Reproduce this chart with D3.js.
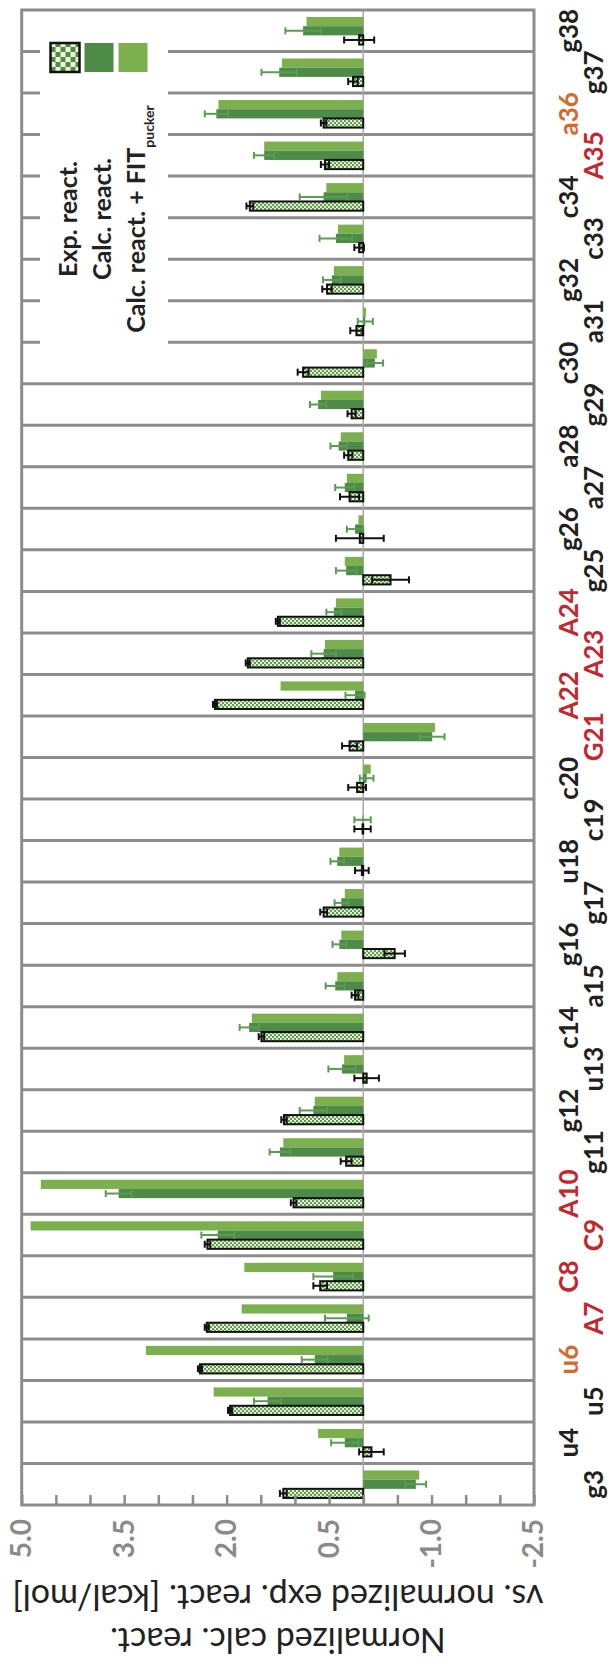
<!DOCTYPE html>
<html>
<head>
<meta charset="utf-8">
<script src="https://cdn.jsdelivr.net/npm/d3@7"></script>
<style>
  body { margin: 0; background: #fff; }
  svg { display: block; }
</style>
</head>
<body>
<script>
const W = 611, H = 1662;

// data
const cats = ["g3","u4","u5","u6","A7","C8","C9","A10","g11","g12","u13","c14","a15","g16","g17","u18","c19","c20","G21","A22","A23","A24","g25","g26","a27","a28","g29","c30","a31","g32","c33","c34","A35","a36","g37","g38"];
const redCats = ["A7","C8","C9","A10","G21","A22","A23","A24","A35"];
const orangeCats = ["u6","a36"];
const expVals = [1.17,-0.12,1.95,2.39,2.29,0.63,2.28,1.02,0.25,1.16,-0.05,1.49,0.12,-0.46,0.58,0.02,0.01,0.09,0.2,2.17,1.69,1.25,-0.4,0.05,0.2,0.22,0.17,0.88,0.1,0.53,0.06,1.66,0.56,0.58,0.15,0.06];
const expErr = [0.05,0.18,0.03,0.03,0.03,0.1,0.04,0.04,0.08,0.04,0.18,0.04,0.05,0.15,0.05,0.1,0.12,0.13,0.11,0.03,0.03,0.03,0.27,0.35,0.14,0.06,0.06,0.08,0.09,0.07,0.07,0.05,0.06,0.04,0.07,0.22];
const calcVals = [-0.77,0.27,1.40,0.71,0.24,0.44,2.13,3.58,1.22,0.73,0.31,1.67,0.41,0.35,0.32,0.38,0.01,-0.05,-1.01,0.12,0.58,0.43,0.25,0.12,0.27,0.36,0.66,-0.17,-0.03,0.46,0.40,0.58,1.45,2.15,1.23,0.88];
const calcErr = [0.15,0.2,0.2,0.19,0.32,0.29,0.24,0.19,0.15,0.2,0.2,0.14,0.14,0.1,0.1,0.1,0.12,0.1,0.18,0.14,0.18,0.11,0.15,0.12,0.14,0.12,0.12,0.12,0.11,0.13,0.24,0.35,0.15,0.17,0.26,0.26];
const fitVals = [-0.82,0.66,2.19,3.18,1.78,1.74,4.87,4.72,1.17,0.71,0.28,1.63,0.38,0.32,0.27,0.35,0,-0.11,-1.05,1.21,0.56,0.4,0.27,0.07,0.24,0.33,0.62,-0.2,-0.04,0.43,0.37,0.54,1.45,2.12,1.19,0.83];
const majorTicks = [5.0, 3.5, 2.0, 0.5, -1.0, -2.5];
const series = ["exp", "calc", "fit"];
const legendLabels = ["Exp. react.", "Calc. react.", "Calc. react. + FIT"];
const titleLines = ["Normalized calc. react.", "vs. normalized exp. react. [kcal/mol]"];

const gray = "#8c8c8c", dark = "#4e8a48", light = "#7cb04f", errGreen = "#5b9c53";

let svg = d3.select("body").append("svg").attr("width", W).attr("height", H);

let defs = svg.append("defs");
let pat = defs.append("pattern").attr("id", "chk").attr("width", 4).attr("height", 4)
  .attr("patternUnits", "userSpaceOnUse");
pat.append("rect").attr("width", 4).attr("height", 4).attr("fill", "#e6efd4");
pat.append("rect").attr("width", 2).attr("height", 2).attr("fill", "#5f9d55");
pat.append("rect").attr("x", 2).attr("y", 2).attr("width", 2).attr("height", 2).attr("fill", "#5f9d55");

// chart is drawn upright, then turned a quarter turn
let g = svg.append("g").attr("transform", `translate(0,${H}) rotate(-90)`);

let x = d3.scaleBand().domain(cats).range([157, 1652]);
let y = d3.scaleLinear().domain([-2.5, 5]).range([534, 21.7]);
let sub = d3.scaleBand().domain(series).range([0, x.bandwidth()]).paddingOuter(0.76);

// category separators
g.selectAll("line.sep")
  .data(cats.slice(1))
  .enter()
  .append("line")
  .attr("x1", d => x(d)).attr("x2", d => x(d))
  .attr("y1", y(5)).attr("y2", y(-2.5))
  .attr("stroke", gray).attr("stroke-width", 3);

// zero line
g.append("line")
  .attr("x1", 157).attr("x2", 1652)
  .attr("y1", y(0)).attr("y2", y(0))
  .attr("stroke", "#a8a8a8").attr("stroke-width", 1.5);

const bar = (vals, key, fill) => {
  g.selectAll("rect." + key)
    .data(vals)
    .enter()
    .append("rect")
    .attr("class", key)
    .attr("x", (d, i) => x(cats[i]) + sub(key))
    .attr("width", sub.bandwidth())
    .attr("y", d => y(Math.max(0, d)))
    .attr("height", d => Math.abs(y(d) - y(0)))
    .attr("fill", fill);
};
bar(fitVals, "fit", light);
bar(calcVals, "calc", dark);
bar(expVals, "exp", "url(#chk)");
g.selectAll("rect.exp").attr("stroke", "#111").attr("stroke-width", 2);

const errs = (vals, err, key, color) => {
  let eg = g.append("g").attr("stroke", color).attr("stroke-width", 2);
  vals.forEach((v, i) => {
    let cx = x(cats[i]) + sub(key) + sub.bandwidth() / 2;
    let lo = y(v - err[i]), hi = y(v + err[i]);
    eg.append("line").attr("x1", cx).attr("x2", cx).attr("y1", lo).attr("y2", hi);
    [lo, hi].forEach(e => eg.append("line").attr("x1", cx - 3.5).attr("x2", cx + 3.5).attr("y1", e).attr("y2", e));
  });
};
errs(calcVals, calcErr, "calc", errGreen);
errs(expVals, expErr, "exp", "#111");

// legend
let lg = g.append("g");
lg.append("rect").attr("x", 1297).attr("y", 40).attr("width", 353).attr("height", 128).attr("fill", "#fff");
let lfill = ["url(#chkBig)", dark, light];
let sq = [50.5, 84.5, 118.5];
let big = defs.append("pattern").attr("id", "chkBig").attr("width", 10).attr("height", 10)
  .attr("x", 1590).attr("y", sq[0]).attr("patternUnits", "userSpaceOnUse");
big.append("rect").attr("width", 10).attr("height", 10).attr("fill", "#f1f1dc");
big.append("rect").attr("width", 5).attr("height", 5).attr("fill", "#4e8a48");
big.append("rect").attr("x", 5).attr("y", 5).attr("width", 5).attr("height", 5).attr("fill", "#4e8a48");
series.forEach((s, i) => {
  lg.append("rect").attr("x", 1590).attr("y", sq[i]).attr("width", 29).attr("height", 29)
    .attr("fill", lfill[i])
    .attr("stroke", i === 0 ? "#111" : "none").attr("stroke-width", 2.5);
  let t = lg.append("text").attr("x", 1443).attr("y", [77, 111, 145][i])
    .attr("text-anchor", "middle")
    .attr("font-family", "Lato, sans-serif").attr("font-weight", "bold").attr("font-size", 25)
    .attr("fill", "#222");
  t.append("tspan").text(legendLabels[i]);
  if (i === 2) t.append("tspan").attr("dy", 9).attr("font-size", 14).text("pucker");
});

// frame
g.append("rect").attr("x", 157).attr("y", y(5)).attr("width", 1652 - 157).attr("height", y(-2.5) - y(5))
  .attr("fill", "none").attr("stroke", gray).attr("stroke-width", 3);

// value axis: minor ticks inward, labels on majors
let yAxis = d3.axisLeft(y)
  .tickValues(d3.range(-2.5, 5.01, 0.5))
  .tickSizeInner(-10).tickSizeOuter(0).tickPadding(14)
  .tickFormat(d => majorTicks.some(m => Math.abs(m - d) < 1e-6) ? d.toFixed(1) : "");
let ya = g.append("g").attr("transform", "translate(157,0)").call(yAxis);
ya.select(".domain").remove();
ya.selectAll(".tick line").attr("stroke", gray).attr("stroke-width", 2.5);
ya.selectAll(".tick text")
  .attr("font-family", "Lato, sans-serif").attr("font-weight", "bold").attr("font-size", 28)
  .attr("fill", "#8a8a8a");

// category labels, staggered in two rows
g.selectAll("text.cat")
  .data(cats)
  .enter()
  .append("text")
  .attr("x", d => x(d) + x.bandwidth() / 2)
  .attr("y", (d, i) => i % 2 === 0 ? 603 : 578)
  .attr("text-anchor", "middle")
  .attr("font-family", "Lato, sans-serif").attr("font-weight", "bold").attr("font-size", 26)
  .attr("fill", d => redCats.includes(d) ? "#c4262e" : orangeCats.includes(d) ? "#d2692f" : "#231f20")
  .text(d => d);

// axis title
titleLines.forEach((t, i) => {
  g.append("text")
    .attr("transform", `translate(${[34, 77][i]},${(y(5) + y(-2.5)) / 2}) rotate(-90)`)
    .attr("text-anchor", "middle")
    .attr("font-family", "Lato, sans-serif").attr("font-size", 34)
    .attr("fill", "#222")
    .text(t);
});
</script>
</body>
</html>
